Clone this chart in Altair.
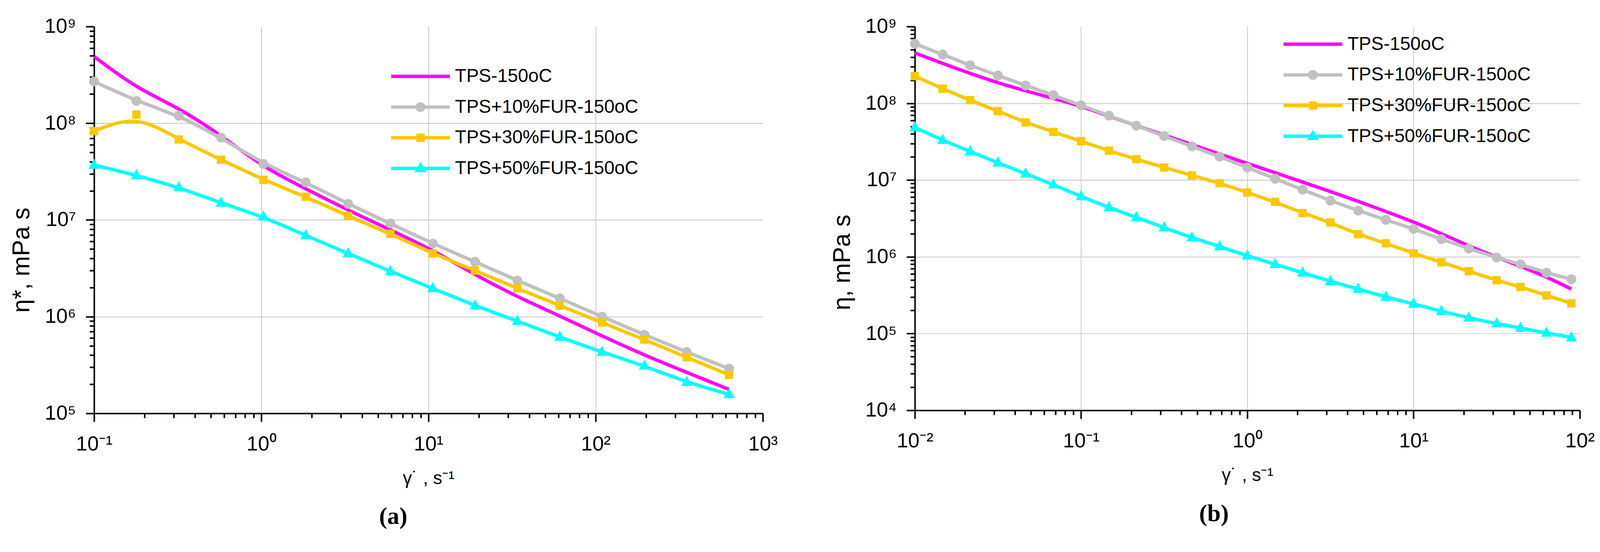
import altair as alt
import pandas as pd

SERIES = ["TPS-150oC", "TPS+10%FUR-150oC", "TPS+30%FUR-150oC", "TPS+50%FUR-150oC"]
COLORS = ["#FF00FF", "#C0C0C0", "#FAC800", "#00FFFF"]

# ---------- panel (a): complex viscosity vs frequency ----------
x_a = [0.1, 0.1791, 0.3208, 0.5748, 1.030, 1.845, 3.305, 5.922, 10.61, 19.0,
       34.04, 60.99, 109.2, 195.7, 350.6, 628.1]
tps_a = [4.9e8, 2.3e8, 1.45e8, 7.5e7, 3.5e7, 2.1e7, 1.26e7, 7.9e6, 4.9e6, 2.7e6,
         1.6e6, 1.02e6, 6.3e5, 4.0e5, 2.65e5, 1.77e5]
fur10_a = [2.7e8, 1.7e8, 1.2e8, 7.1e7, 3.8e7, 2.45e7, 1.47e7, 9.2e6, 5.7e6, 3.7e6,
           2.36e6, 1.55e6, 1.0e6, 6.5e5, 4.3e5, 2.9e5]
fur30_a = [8.3e7, 1.23e8, 6.8e7, 4.2e7, 2.6e7, 1.74e7, 1.1e7, 7.2e6, 4.5e6, 3.0e6,
           1.96e6, 1.3e6, 8.7e5, 5.8e5, 3.8e5, 2.5e5]
fur50_a = [3.7e7, 2.9e7, 2.17e7, 1.5e7, 1.08e7, 6.9e6, 4.5e6, 2.94e6, 1.96e6, 1.3e6,
           9.0e5, 6.15e5, 4.3e5, 3.1e5, 2.1e5, 1.57e5]

# ---------- panel (b): steady shear viscosity vs shear rate ----------
x_b = [0.01, 0.0147, 0.0215, 0.0316, 0.0464, 0.0681, 0.1, 0.147, 0.215, 0.316,
       0.464, 0.681, 1.0, 1.47, 2.15, 3.16, 4.64, 6.81, 10.0, 14.7, 21.5, 31.6,
       44.0, 63.0, 89.0]
tps_b = [4.54e8, 3.3e8, 2.45e8, 1.85e8, 1.45e8, 1.16e8, 9.2e7, 6.8e7, 5.1e7, 3.87e7,
         2.9e7, 2.18e7, 1.65e7, 1.25e7, 9.4e6, 7.1e6, 5.3e6, 3.9e6, 2.86e6, 2.0e6,
         1.39e6, 9.9e5, 7.5e5, 5.5e5, 3.8e5]
fur10_b = [5.98e8, 4.32e8, 3.13e8, 2.3e8, 1.71e8, 1.28e8, 9.4e7, 6.9e7, 5.1e7, 3.75e7,
           2.75e7, 2.02e7, 1.46e7, 1.04e7, 7.5e6, 5.4e6, 4.0e6, 3.03e6, 2.31e6, 1.70e6,
           1.28e6, 9.8e5, 7.98e5, 6.2e5, 5.1e5]
fur30_b = [2.26e8, 1.55e8, 1.10e8, 7.9e7, 5.65e7, 4.24e7, 3.21e7, 2.41e7, 1.87e7, 1.46e7,
           1.15e7, 9.1e6, 6.9e6, 5.2e6, 3.72e6, 2.8e6, 1.97e6, 1.5e6, 1.11e6, 8.5e5,
           6.5e5, 4.95e5, 4.05e5, 3.15e5, 2.48e5]
fur50_b = [4.84e7, 3.31e7, 2.36e7, 1.68e7, 1.21e7, 8.7e6, 6.1e6, 4.4e6, 3.26e6, 2.4e6,
           1.78e6, 1.36e6, 1.03e6, 8.0e5, 6.2e5, 4.8e5, 3.8e5, 3.0e5, 2.43e5, 1.96e5,
           1.6e5, 1.35e5, 1.18e5, 1.02e5, 8.9e4]

# axis decade ranges (exponents)
XA_DEC = (-1, 3)
YA_DEC = (5, 9)
XB_DEC = (-2, 2)
YB_DEC = (4, 9)

Y_TITLE_A = "η*, mPa s"
Y_TITLE_B = "η, mPa s"
X_TITLE = "γ˙ , s⁻¹"
CAPTIONS = ["(a)", "(b)"]

FONT = "Liberation Sans"
SUP = "['⁰','¹','²','³','⁴','⁵','⁶','⁷','⁸','⁹']"
LOG10 = "(log(datum.value)/LN10)"
IS_DEC = f"abs({LOG10} - round({LOG10})) < 0.000001"
LABEL_EXPR = (f"{IS_DEC} ? '10' + (round({LOG10}) < 0 ? '⁻' : '') + "
              f"{SUP}[abs(round({LOG10}))] : ''")

# legend symbols: line segment + marker, drawn in one custom path
LEG_LINE = "M-6.75,-0.225H1V0.225H-6.75Z"
LEG_PATHS = [
    LEG_LINE,
    LEG_LINE + "M-3.525,0A0.65,0.65 0 1,1 -2.225,0A0.65,0.65 0 1,1 -3.525,0Z",
    LEG_LINE + "M-3.425,-0.55H-2.325V0.55H-3.425Z",
    LEG_LINE + "M-2.875,-0.85L-2.075,0.5H-3.675Z",
]
TRI_PATH = "M0,-1.17L1,0.69L-1,0.69Z"
MARKERS = [None, ("circle", 676), ("square", 484), (TRI_PATH, 841)]


def long_df(x, lists):
    rows = []
    for name, ys in zip(SERIES, lists):
        for xi, yi in zip(x, ys):
            rows.append({"x": xi, "y": yi, "series": name})
    return pd.DataFrame(rows)


def tick_values(lo, hi):
    vals = [m * 10.0 ** k for k in range(lo, hi) for m in range(1, 10)]
    return vals + [10.0 ** hi]


def make_axis(lo, hi, title, is_y, title_y=None):
    lo_v, hi_v = 10.0 ** lo, 10.0 ** hi
    grid_test = f"({IS_DEC}) && datum.value > {lo_v * 1.001} && datum.value < {hi_v * 0.999}"
    kw = dict(
        values=tick_values(lo, hi),
        labelExpr=LABEL_EXPR,
        labelFont=FONT, labelFontSize=54, labelColor="black",
        labelOverlap=False, labelFlush=False,
        domainColor="black", domainWidth=4,
        tickColor="black", tickWidth=4,
        tickSize={"condition": {"test": IS_DEC, "value": 22}, "value": 12},
        grid=True, gridColor="#c4c4c4", gridWidth=2,
        gridOpacity={"condition": {"test": grid_test, "value": 1}, "value": 0},
        title=title, titleFont=FONT, titleColor="black", titleFontWeight="normal",
    )
    if is_y:
        kw.update(labelPadding=26, titleFontSize=64, titlePadding=27, titleY=title_y)
    else:
        kw.update(labelPadding=32, titleFontSize=48, titlePadding=40)
    return alt.Axis(**kw)


def panel(x, lists, xdec, ydec, ytitle, legend_xy, width, height, caption, cap_dx,
          title_y):
    df = long_df(x, lists)
    xs = alt.Scale(type="log", domain=[10.0 ** xdec[0], 10.0 ** xdec[1]], nice=False)
    ys = alt.Scale(type="log", domain=[10.0 ** ydec[0], 10.0 ** ydec[1]], nice=False)
    xenc = alt.X("x:Q", scale=xs, axis=make_axis(xdec[0], xdec[1], X_TITLE, False))
    yenc = alt.Y("y:Q", scale=ys, axis=make_axis(ydec[0], ydec[1], ytitle, True, title_y))

    base = alt.Chart(df)
    layers = []
    for name, col in zip(SERIES, COLORS):
        layers.append(
            base.mark_line(strokeWidth=9, interpolate="basis", color=col)
            .encode(x=xenc, y=yenc)
            .transform_filter(alt.datum.series == name)
        )
    for name, col, mk in zip(SERIES, COLORS, MARKERS):
        if mk is None:
            continue
        layers.append(
            base.mark_point(shape=mk[0], size=mk[1], filled=True, opacity=1,
                            color=col, strokeWidth=0)
            .encode(x=xenc, y=yenc)
            .transform_filter(alt.datum.series == name)
        )
    leg = alt.Legend(
        orient="none", legendX=legend_xy[0], legendY=legend_xy[1], direction="vertical",
        title=None, labelFont=FONT, labelFontSize=49, labelColor="black",
        labelLimit=2000, symbolSize=1600, symbolStrokeWidth=0, labelOffset=9,
        rowPadding=31, padding=0,
    )
    cscale = alt.Scale(domain=SERIES, range=COLORS)
    layers.append(
        base.mark_point(filled=True, opacity=1).encode(
            x=xenc, y=yenc,
            color=alt.Color("series:N", scale=cscale, legend=leg),
            shape=alt.Shape("series:N", scale=alt.Scale(domain=SERIES, range=LEG_PATHS),
                            legend=leg),
        ).transform_filter("false")
    )
    return alt.layer(*layers).properties(
        width=width, height=height,
        title=alt.TitleParams(caption, orient="bottom", font="Liberation Serif",
                              fontSize=64, fontWeight="bold", color="black",
                              dx=cap_dx, offset=45),
    )


left = panel(x_a, [tps_a, fur10_a, fur30_a, fur50_a], XA_DEC, YA_DEC, Y_TITLE_A,
             (894, 107), 1764, 1021, CAPTIONS[0], -93, 616)
right = panel(x_b, [tps_b, fur10_b, fur30_b, fur50_b], XB_DEC, YB_DEC, Y_TITLE_B,
              (1083, 22), 1754, 1013, CAPTIONS[1], -88, 622)

chart = (
    alt.hconcat(left, right, spacing=401, bounds="flush")
    .resolve_scale(color="independent", shape="independent")
    .resolve_legend(color="independent", shape="independent")
    .properties(padding={"left": 17, "top": 14, "right": 5, "bottom": 5},
                background="white")
    .configure_view(stroke=None)
)

chart.save("out.html", embed_options={"renderer": "svg", "actions": False})
